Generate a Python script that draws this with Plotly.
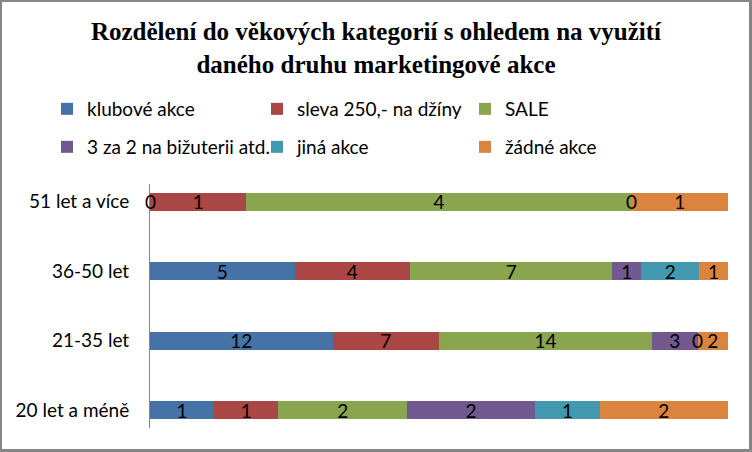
import plotly.graph_objects as go

categories = ["20 let a méně", "21-35 let", "36-50 let", "51 let a více"]
series_names = ["klubové akce", "sleva 250,- na džíny", "SALE",
                "3 za 2 na bižuterii atd.", "jiná akce", "žádné akce"]
klubove = [1, 12, 5, 0]
sleva = [1, 7, 4, 1]
sale = [2, 14, 7, 4]
tri_za_dve = [2, 3, 1, 0]
jina = [1, 0, 2, None]
zadne = [2, 2, 1, 1]
series_values = [klubove, sleva, sale, tri_za_dve, jina, zadne]
colors = ["#4572A7", "#AA4643", "#89A54E", "#71588F", "#4198AF", "#DB843D"]

W, H = 752, 452
ML, MR, MT, MB = 150, 24, 184, 24
PW, PH = W - ML - MR, H - MT - MB

FONT = "Lato, 'Open Sans', sans-serif"
FS = 19

# legend placement: (text start x, row center y) in pixels
legend_pos = [(87, 109), (297, 109), (505, 109), (87, 147), (297, 147), (505, 147)]

fig = go.Figure()
for i, (name, vals, col) in enumerate(zip(series_names, series_values, colors)):
    fig.add_trace(go.Bar(
        y=categories, x=[v if v is not None else 0 for v in vals],
        name=name, orientation="h", marker=dict(color=col, line=dict(width=0)),
        text=[("" if (v is None or v == 0) else str(v)) for v in vals],
        textposition="inside", insidetextanchor="middle", textangle=0,
        textfont=dict(family=FONT, size=FS, color="black"),
        legend="legend" if i == 0 else f"legend{i + 1}",
        hoverinfo="skip",
    ))

# labels for zero-valued segments
annotations = []
for ci, cat in enumerate(categories):
    total = sum(v[ci] for v in series_values if v[ci] is not None)
    cum = 0
    for vals in series_values:
        v = vals[ci]
        if v is None:
            continue
        if v == 0:
            annotations.append(dict(x=100 * cum / total, y=cat, xref="x", yref="y",
                                    text="0", showarrow=False, xanchor="center",
                                    font=dict(family=FONT, size=FS, color="black")))
        cum += v

def px_x(p):
    return (p - ML) / PW

def px_y(p):
    return (H - MB - p) / PH

frame_col = "#868686"
shapes = [
    dict(type="rect", xref="paper", yref="paper", x0=px_x(1), x1=px_x(750),
         y0=px_y(1), y1=px_y(450), line=dict(color=frame_col, width=2), layer="above"),
    dict(type="line", xref="paper", yref="paper", x0=px_x(751), x1=px_x(751),
         y0=px_y(0), y1=px_y(452), line=dict(color=frame_col, width=2)),
    dict(type="line", xref="paper", yref="paper", x0=px_x(0), x1=px_x(752),
         y0=px_y(451), y1=px_y(451), line=dict(color=frame_col, width=2)),
]

legends = {}
for i, (tx, ty) in enumerate(legend_pos):
    key = "legend" if i == 0 else f"legend{i + 1}"
    legends[key] = dict(orientation="h", xref="container", yref="container",
                        x=(tx - 40) / W, y=1 - ty / H,
                        xanchor="left", yanchor="middle",
                        font=dict(family=FONT, size=FS, color="black"),
                        bgcolor="rgba(0,0,0,0)", borderwidth=0,
                        itemclick=False, itemdoubleclick=False)

fig.update_layout(
    width=W, height=H,
    margin=dict(l=ML, r=MR, t=MT, b=MB),
    paper_bgcolor="white", plot_bgcolor="white",
    barmode="stack", barnorm="percent", bargap=0.74,
    uniformtext=dict(minsize=FS, mode="show"),
    title=dict(text="<b>Rozdělení do věkových kategorií s ohledem na využití<br>daného druhu marketingové akce</b>",
               x=0.5, xanchor="center", xref="container",
               y=1 - 40 / H, yanchor="middle", yref="container",
               font=dict(family="'Liberation Serif', 'Times New Roman', serif", size=25, color="black")),
    xaxis=dict(visible=False, range=[0, 100], fixedrange=True),
    yaxis=dict(type="category", categoryorder="array", categoryarray=categories,
               range=[-0.255, 3.255], showline=True, linecolor=frame_col, linewidth=1,
               showgrid=False, zeroline=False, ticks="", ticklabelstandoff=16,
               tickfont=dict(family=FONT, size=FS, color="black"), fixedrange=True),
    annotations=annotations, shapes=shapes,
    showlegend=True,
    **legends,
)

fig.write_html("out.html", config={"displayModeBar": False},
               post_script="document.body.style.margin='0';document.body.style.padding='0';")
